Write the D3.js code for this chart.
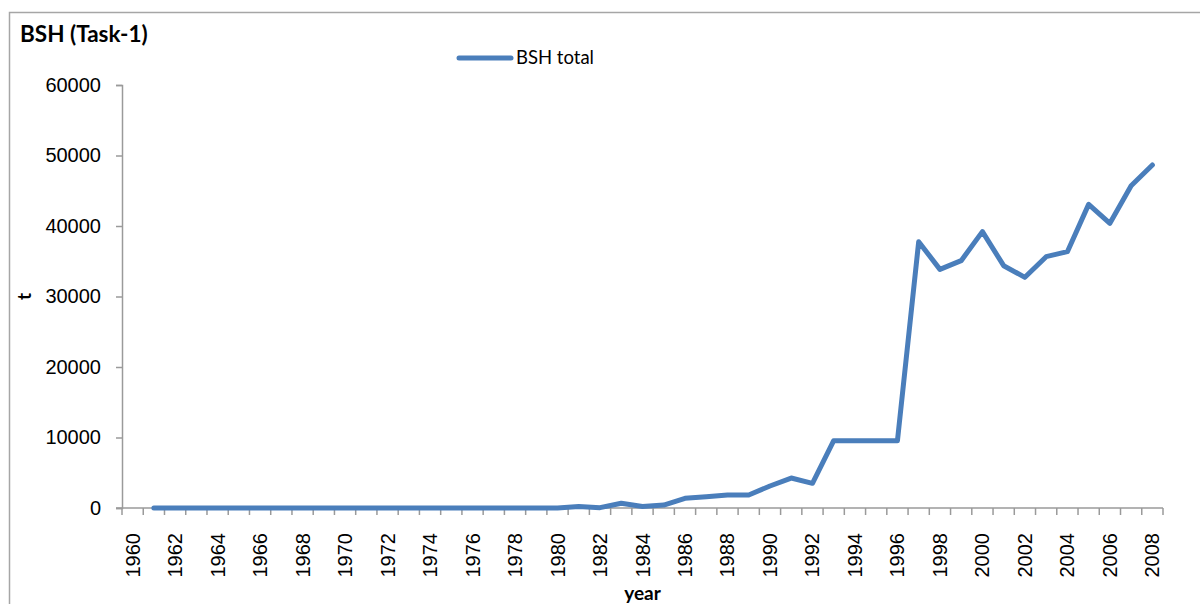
<!DOCTYPE html>
<html>
<head>
<meta charset="utf-8">
<script src="https://cdn.jsdelivr.net/npm/d3@7"></script>
<style>
    body { margin: 0; background: #fff; }
    svg { display: block; }
</style>
</head>
<body>
<div id="chart"></div>
<script>
// categories on the x axis (one per year)
let years = d3.range(1960, 2009);

// BSH total (t), first value is 1961
let bshYears = d3.range(1961, 2009);
let bshTotal = [
    0, 0, 0, 0, 0, 0, 0, 0, 0, 0,          // 1961-1970
    0, 0, 0, 0, 0, 0, 0, 0, 0, 0,          // 1971-1980
    200, 50, 680, 200, 420, 1370, 1600, 1840, 1840, 3120, // 1981-1990
    4250, 3500, 9550, 9550, 9550, 9550, 37770, 33850, 35080, 39200, // 1991-2000
    34370, 32720, 35650, 36360, 43070, 40380, 45720, 48650 // 2001-2008
];

let yTicks = [0, 10000, 20000, 30000, 40000, 50000, 60000];
let xLabels = years.filter(y => y % 2 === 0);

let width = 1200, height = 604;
let margin = {left: 122, right: 37, top: 85, bottom: 96};

let svg = d3.select("#chart")
    .append("svg")
    .attr("width", width)
    .attr("height", height);

// outer chart border
svg.append("path")
    .attr("d", "M9.5,620 V12.5 H1210")
    .attr("fill", "none")
    .attr("stroke", "#a6a6a6")
    .attr("stroke-width", 1.5);

let x = d3.scaleBand()
    .domain(years)
    .range([margin.left, width - margin.right])
    .padding(0);

let y = d3.scaleLinear()
    .domain([0, 60000])
    .range([height - margin.bottom, margin.top]);

let axisColor = "#9a9a9a";

// y axis
let yAxis = svg.append("g")
    .attr("transform", `translate(${margin.left},0)`)
    .call(d3.axisLeft(y).tickValues(yTicks).tickSize(6).tickPadding(15).tickFormat(d3.format("d")));
yAxis.select(".domain").attr("stroke", axisColor).attr("stroke-width", 1.5);
yAxis.selectAll(".tick line").attr("stroke", axisColor).attr("stroke-width", 1.5);
yAxis.selectAll("text")
    .attr("font-family", "'Liberation Sans', Arial, sans-serif")
    .attr("font-size", "20px")
    .attr("fill", "#000");

// x axis: ticks on category boundaries
let xg = svg.append("g")
    .attr("transform", `translate(0,${y(0)})`);
xg.append("line")
    .attr("x1", margin.left - 6).attr("x2", width - margin.right)
    .attr("stroke", axisColor).attr("stroke-width", 1.5);
xg.selectAll(".xtick")
    .data(years.concat([years[years.length - 1] + 1]))
    .join("line")
    .attr("class", "xtick")
    .attr("x1", d => d <= 2008 ? x(d) : x(2008) + x.bandwidth())
    .attr("x2", d => d <= 2008 ? x(d) : x(2008) + x.bandwidth())
    .attr("y1", 0).attr("y2", 7)
    .attr("stroke", axisColor).attr("stroke-width", 1.5);
xg.selectAll(".xlabel")
    .data(xLabels)
    .join("text")
    .attr("class", "xlabel")
    .attr("transform", d => `translate(${x(d) + x.bandwidth() / 2 + 7},25) rotate(-90)`)
    .attr("text-anchor", "end")
    .attr("font-family", "'Liberation Sans', Arial, sans-serif")
    .attr("font-size", "20px")
    .attr("fill", "#000")
    .text(d => d);

// line
let line = d3.line()
    .x((d, i) => x(bshYears[i]) + x.bandwidth() / 2)
    .y(d => y(d));

svg.append("path")
    .datum(bshTotal)
    .attr("d", line)
    .attr("fill", "none")
    .attr("stroke", "#4a7ebb")
    .attr("stroke-width", 5)
    .attr("stroke-linejoin", "round")
    .attr("stroke-linecap", "round");

// titles
let labelFont = "Lato, 'Open Sans', sans-serif";
svg.append("text")
    .attr("x", 20).attr("y", 42)
    .attr("font-family", labelFont)
    .attr("font-weight", "bold")
    .attr("font-size", "22.5px")
    .text("BSH (Task-1)");

svg.append("text")
    .attr("transform", `translate(31,${(y(0) + y(60000)) / 2}) rotate(-90)`)
    .attr("text-anchor", "middle")
    .attr("font-family", labelFont)
    .attr("font-weight", "bold")
    .attr("font-size", "19px")
    .text("t");

svg.append("text")
    .attr("x", (margin.left + width - margin.right) / 2)
    .attr("y", 600)
    .attr("text-anchor", "middle")
    .attr("font-family", labelFont)
    .attr("font-weight", "bold")
    .attr("font-size", "19px")
    .text("year");

// legend
let legend = svg.append("g").attr("transform", "translate(459,58)");
legend.append("line")
    .attr("x1", 0).attr("x2", 52)
    .attr("stroke", "#4a7ebb")
    .attr("stroke-width", 5)
    .attr("stroke-linecap", "round");
legend.append("text")
    .attr("x", 57).attr("y", 6)
    .attr("font-family", labelFont)
    .attr("font-size", "18.5px")
    .text("BSH total");
</script>
</body>
</html>
